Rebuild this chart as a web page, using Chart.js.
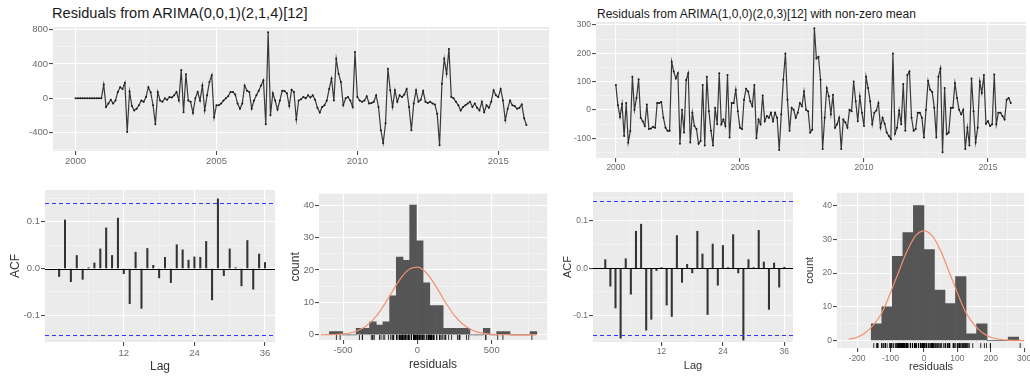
<!DOCTYPE html>
<html>
<head>
<meta charset="utf-8">
<script src="https://cdn.jsdelivr.net/npm/chart.js@4.4.1/dist/chart.umd.min.js"></script>
<style>
  body { margin: 0; background: #fff; width: 1030px; height: 379px; overflow: hidden; position: relative; font-family: "Liberation Sans", Arial, sans-serif; }
  .box { position: absolute; }
  .ttl { position: absolute; color: #1a1a1a; white-space: nowrap; line-height: 1; }
</style>
</head>
<body>
<div class="ttl" style="left:52px;top:6px;font-size:14.6px">Residuals from ARIMA(0,0,1)(2,1,4)[12]</div>
<div class="ttl" style="left:597px;top:8px;font-size:12px">Residuals from ARIMA(1,0,0)(2,0,3)[12] with non-zero mean</div>

<div class="box" style="left:0;top:21px;width:553px;height:150px"><canvas id="leftSeries"></canvas></div>
<div class="box" style="left:562px;top:16px;width:468px;height:162px"><canvas id="rightSeries"></canvas></div>
<div class="box" style="left:0;top:190px;width:275px;height:186px"><canvas id="leftAcf"></canvas></div>
<div class="box" style="left:287px;top:189px;width:265px;height:187px"><canvas id="leftHist"></canvas></div>
<div class="box" style="left:553px;top:192px;width:240px;height:187px"><canvas id="rightAcf"></canvas></div>
<div class="box" style="left:798px;top:188px;width:232px;height:191px"><canvas id="rightHist"></canvas></div>

<script>
// monthly residuals, Jan 2000 onwards
const startYear = 2000;
const leftResid = [
  0, 0, 0, 0, 0, 0, 0, 0, 0, 0, 0, 0,
  160, -100, -60, -15, -60, -25, 75, 130, 110, 180, -390, 80,
  -90, -140, -120, -80, -25, -40, 15, 130, 70, -80, -300, 75,
  -25, -40, 0, -15, 15, 10, 35, 75, -25, 330, -160, 280,
  -25, -40, -170, 0, 75, -25, 150, -140, 35, 190, 270, -220,
  -80, -80, -60, -25, 0, 25, 75, 75, 45, -60, -120, -60,
  150, 90, 75, -120, -25, 35, 90, 150, 210, -300, 770, -195,
  60, -25, -130, -25, 90, 85, 60, -90, 100, 75, -245, -25,
  -10, 15, 0, 35, 10, 35, -15, -110, -165, -100, -80, -25,
  110, 230, -25, 460, 285, 190, -80, 0, 15, -25, -100, 540,
  15, -25, -40, -25, 25, -60, -55, -40, 35, -100, -370, -520,
  -290, 345, 95, -100, 95, -40, 35, 15, 45, 110, -100, -370,
  -60, 95, -40, -15, 85, -40, -55, -40, -60, -70, -180, -545,
  170, 460, 285, 575, 15, 0, -40, -80, -140, -100, -80, -60,
  -40, -100, -60, -110, -140, -40, -160, -80, -110, -40, 95, 35,
  15, 110, -25, -255, -120, -25, -80, -90, -120, -110, -70, -230,
  -310
];
const rightResid = [
  88, 16, -25, 21, -92, 24, -115, -75, 117, 0, 42, 108,
  -28, -40, -57, 19, -68, -66, -60, -63, 24, 24, 28, -28,
  -63, -74, -74, 170, 135, 111, 129, -120, 0, -80, 105, 129,
  -115, -10, -57, -68, -120, -110, 88, -126, 117, -5, -74, -126,
  7, -51, 129, -51, -34, -57, 123, -98, 24, 24, 71, -5,
  -63, -68, 36, 74, 65, 30, 13, 88, -100, -34, -51, 51,
  -40, -22, -28, -10, -40, -10, -28, -142, -16, 106, 199, 36,
  -74, 7, 0, -28, -10, 24, 13, 65, 0, -5, -80, -70,
  288, 181, 187, 106, -138, -28, 77, 48, -16, 53, -63, -51,
  -28, -138, -34, -45, -63, 0, -5, 100, 30, -40, 48, -10,
  -57, 117, 77, 30, -51, -10, -2, 24, -63, -28, -49, -80,
  -92, -103, 199, -84, -63, -2, -51, 91, -74, 123, 135, -28,
  -74, -68, -10, -10, -28, -98, 0, 102, 71, 63, 7, -98,
  117, 146, -150, 77, -86, -80, 7, 7, 94, 42, 0, -16,
  0, -138, -63, -126, 111, -5, -115, -63, 100, 59, 123, -49,
  -40, -57, -51, 125, -51, -10, -10, -22, -34, 36, 42, 24
];

// autocorrelations, lags 1..36
const leftAcf = [
  -0.017, 0.104, -0.028, 0.028, -0.023, 0.002, 0.012, 0.042, 0.087, 0.028, 0.108, -0.011,
  -0.075, 0.035, -0.085, 0.043, 0.007, -0.020, 0.024, -0.030, 0.051, 0.040, 0.018, 0.025,
  0.024, 0.058, -0.067, 0.149, -0.015, 0.042, 0.002, -0.037, 0.060, -0.044, 0.031, 0.013
];
const rightAcf = [
  0.018, -0.038, -0.084, -0.148, 0.020, -0.055, 0.078, 0.093, -0.131, -0.108, -0.005, 0.001,
  -0.078, -0.102, 0.069, -0.030, 0.008, -0.010, 0.078, 0.030, -0.098, 0.051, -0.036, 0.048,
  0.001, 0.071, -0.010, -0.152, 0.018, 0.001, 0.080, 0.013, -0.087, 0.011, -0.040, 0.002
];
const leftCi = 0.141;
const rightCi = 0.1414;

// histogram bins
const leftBinStart = -592;
const leftBinWidth = 45;
const leftCounts = [1, 1, 0, 0, 2, 2, 4, 3, 4, 12, 24, 23, 40, 29, 16, 9, 9, 2, 2, 2, 2, 0, 0, 2, 0, 1, 1, 0, 0, 0, 1];
const rightBinStart = -157.5;
const rightBinWidth = 31.5;
const rightCounts = [5, 10, 25, 32, 40, 27, 15, 11, 19, 2, 5, 0, 0, 1];

// normal curves
const leftNormX = [-650, -600, -550, -500, -450, -400, -350, -300, -250, -200, -150, -100, -50, 0, 50, 100, 150, 200, 250, 300, 350, 400, 450, 500, 550, 600, 650, 700, 750, 800];
const leftNormY = [0.01, 0.04, 0.1, 0.26, 0.63, 1.33, 2.57, 4.55, 7.4, 10.96, 14.8, 18.2, 20.4, 20.9, 19.6, 16.7, 13.0, 9.2, 5.9, 3.5, 1.9, 0.9, 0.42, 0.17, 0.06, 0.02, 0.01, 0, 0, 0];
const rightNormX = [-225, -200, -175, -150, -125, -100, -75, -50, -25, 0, 25, 50, 75, 100, 125, 150, 175, 200, 225, 250, 275, 300];
const rightNormY = [0.4, 1.0, 2.3, 4.7, 8.4, 14.2, 20.5, 26.6, 31.0, 32.5, 31.0, 26.6, 20.5, 14.2, 8.4, 4.7, 2.3, 1.0, 0.4, 0.15, 0.05, 0.01];

// axis breaks
const yearMajor = [2000, 2005, 2010, 2015];
const yearMinor = [2002.5, 2007.5, 2012.5];
const leftResMajor = [-400, 0, 400, 800];
const leftResMinor = [-600, -200, 200, 600];
const rightResMajor = [-100, 0, 100, 200, 300];
const rightResMinor = [-150, -50, 50, 150, 250];
const acfMajor = [-0.1, 0, 0.1];
const acfMinor = [-0.15, -0.05, 0.05, 0.15];
const lagMajor = [12, 24, 36];
const lagMinor = [6, 18, 30];
const countMajor = [0, 10, 20, 30, 40];
const countMinor = [5, 15, 25, 35];
const leftBinMajor = [-500, 0, 500];
const leftBinMinor = [-250, 250, 750];
const rightBinMajor = [-200, -100, 0, 100, 200, 300];
const rightBinMinor = [-250, -150, -50, 50, 150, 250];

Chart.defaults.font.family = '"Liberation Sans", Arial, sans-serif';
Chart.defaults.animation = false;
Chart.defaults.plugins.legend.display = false;
Chart.defaults.plugins.tooltip.enabled = false;

// grey ggplot panel
const panelBg = {
  id: 'panelBg',
  beforeDraw(chart) {
    const { ctx, chartArea: a } = chart;
    ctx.save();
    ctx.fillStyle = '#ebebeb';
    ctx.fillRect(a.left, a.top, a.right - a.left, a.bottom - a.top);
    ctx.restore();
  }
};

// zero line + dashed blue bounds on the acf panels
const acfLines = {
  id: 'acfLines',
  afterDatasetsDraw(chart, args, opts) {
    const { ctx, chartArea: a, scales: { y } } = chart;
    ctx.save();
    ctx.strokeStyle = '#000';
    ctx.lineWidth = 1;
    const y0 = Math.round(y.getPixelForValue(0)) + 0.5;
    ctx.beginPath();
    ctx.moveTo(a.left, y0);
    ctx.lineTo(a.right, y0);
    ctx.stroke();
    ctx.strokeStyle = '#3535ff';
    ctx.lineWidth = 1.2;
    ctx.setLineDash([4, 3]);
    [opts.ci, -opts.ci].forEach(v => {
      const py = Math.round(y.getPixelForValue(v)) + 0.5;
      ctx.beginPath();
      ctx.moveTo(a.left, py);
      ctx.lineTo(a.right, py);
      ctx.stroke();
    });
    ctx.restore();
  }
};

function axis(o) {
  const isMajor = v => o.major.includes(v);
  const all = o.major.concat(o.minor).filter(v => v >= o.min && v <= o.max).sort((a, b) => a - b);
  return {
    type: 'linear', min: o.min, max: o.max, offset: false,
    afterBuildTicks: s => { s.ticks = all.map(v => ({ value: v })); },
    afterFit: s => {
      if (o.horiz) s.height = o.fit; else s.width = o.fit;
      s.paddingLeft = 0; s.paddingRight = 0; s.paddingTop = 0; s.paddingBottom = 0;
    },
    grid: {
      offset: false,
      color: c => (c.tick && isMajor(c.tick.value)) ? '#ffffff' : '#f8f8f8',
      lineWidth: c => (c.tick && isMajor(c.tick.value)) ? 1.1 : 0.55,
      tickColor: c => (c.tick && isMajor(c.tick.value)) ? '#4d4d4d' : 'rgba(0,0,0,0)',
      tickLength: 4
    },
    border: { display: false },
    ticks: {
      autoSkip: false, maxRotation: 0, minRotation: 0, padding: o.pad,
      color: '#6b6b6b', font: { size: o.size },
      callback: v => isMajor(v) ? o.fmt(v) : ''
    },
    title: o.title
      ? { display: true, text: o.title, color: '#333', font: { size: o.titleSize }, padding: o.titlePad }
      : { display: false }
  };
}

const plain = v => String(v);
const oneDec = v => v.toFixed(1);

function seriesChart(id, values, yMin, yMax, yMajor, yMinor, xMax, yFit, xFit, size, padTop) {
  new Chart(document.getElementById(id), {
    type: 'line',
    data: {
      datasets: [{
        data: values.map((v, i) => ({ x: startYear + i / 12, y: v })),
        borderColor: '#383838',
        borderWidth: 1.2,
        pointRadius: 1,
        pointBackgroundColor: '#1a1a1a',
        pointBorderWidth: 0,
        tension: 0
      }]
    },
    options: {
      responsive: true, maintainAspectRatio: false,
      layout: { padding: { top: padTop, left: 0, right: 0, bottom: 0 } },
      scales: {
        x: axis({ min: 1999.2, max: xMax, major: yearMajor, minor: yearMinor, fmt: plain, size: size, fit: xFit, horiz: true, pad: 1 }),
        y: axis({ min: yMin, max: yMax, major: yMajor, minor: yMinor, fmt: plain, size: size, fit: yFit, pad: 1 })
      }
    },
    plugins: [panelBg]
  });
}

function acfChart(id, acf, ci, yMin, yMax, o) {
  new Chart(document.getElementById(id), {
    type: 'bar',
    data: {
      datasets: [{
        data: acf.map((v, i) => ({ x: i + 1, y: v })),
        backgroundColor: '#333333',
        barThickness: 1.4
      }]
    },
    options: {
      responsive: true, maintainAspectRatio: false,
      layout: { padding: 0 },
      scales: {
        x: axis({ min: -1.4, max: 37.7, major: lagMajor, minor: lagMinor, fmt: plain, size: o.size, fit: o.xFit, horiz: true, pad: o.xPad,
                  title: 'Lag', titleSize: o.titleSize, titlePad: { top: 0, bottom: o.xTitlePad } }),
        y: axis({ min: yMin, max: yMax, major: acfMajor, minor: acfMinor, fmt: oneDec, size: o.size, fit: o.yFit, pad: 1,
                  title: 'ACF', titleSize: o.titleSize, titlePad: { top: o.yTitlePad, bottom: 0 } })
      },
      plugins: { acfLines: { ci: ci } }
    },
    plugins: [panelBg, acfLines]
  });
}

function histChart(id, values, binStart, binWidth, counts, normX, normY, o) {
  new Chart(document.getElementById(id), {
    type: 'bar',
    data: {
      datasets: [
        {
          type: 'bar',
          order: 3,
          data: counts.map((c, i) => ({ x: binStart + (i + 0.5) * binWidth, y: c })),
          backgroundColor: '#555555',
          borderWidth: 0,
          barPercentage: 1,
          categoryPercentage: 1
        },
        {
          type: 'line',
          order: 1,
          data: normX.map((x, i) => ({ x: x, y: normY[i] })),
          borderColor: '#f0906f',
          borderWidth: 1.2,
          pointRadius: 0,
          cubicInterpolationMode: 'monotone'
        },
        {
          type: 'scatter',
          order: 2,
          data: values.map(v => ({ x: v, y: o.rugY })),
          pointStyle: 'line',
          rotation: 90,
          radius: 2.5,
          borderColor: '#000',
          borderWidth: 0.8
        }
      ]
    },
    options: {
      responsive: true, maintainAspectRatio: false,
      layout: { padding: 0 },
      scales: {
        x: axis({ min: o.xMin, max: o.xMax, major: o.xMajor, minor: o.xMinor, fmt: plain, size: o.size, fit: o.xFit, horiz: true, pad: o.xPad,
                  title: 'residuals', titleSize: o.titleSize, titlePad: { top: 0, bottom: o.xTitlePad } }),
        y: axis({ min: o.yMin, max: o.yMax, major: countMajor, minor: countMinor, fmt: plain, size: o.size, fit: o.yFit, pad: 1,
                  title: 'count', titleSize: o.titleSize, titlePad: { top: o.yTitlePad, bottom: 0 } })
      }
    },
    plugins: [panelBg]
  });
}

seriesChart('leftSeries', leftResid, -612, 830, leftResMajor, leftResMinor, 2016.8, 53, 20, 9.5, 6);
seriesChart('rightSeries', rightResid, -170, 310, rightResMajor, rightResMinor, 2016.53, 34, 20, 8.5, 6);

acfChart('leftAcf', leftAcf, leftCi, -0.157, 0.168,
  { size: 9.5, titleSize: 12, xFit: 34, xPad: 2, xTitlePad: 2, yFit: 45, yTitlePad: 8 });
acfChart('rightAcf', rightAcf, rightCi, -0.156, 0.161,
  { size: 8.5, titleSize: 11, xFit: 37, xPad: 1, xTitlePad: 6, yFit: 40, yTitlePad: 8 });

histChart('leftHist', leftResid, leftBinStart, leftBinWidth, leftCounts, leftNormX, leftNormY,
  { xMin: -662, xMax: 873, xMajor: leftBinMajor, xMinor: leftBinMinor, yMin: -1.6, yMax: 43.5, rugY: -0.8,
    size: 9.5, titleSize: 12, xFit: 36, xPad: 1, xTitlePad: 4, yFit: 32, yTitlePad: 1 });
histChart('rightHist', rightResid, rightBinStart, rightBinWidth, rightCounts, rightNormX, rightNormY,
  { xMin: -260, xMax: 303, xMajor: rightBinMajor, xMinor: rightBinMinor, yMin: -2.2, yMax: 43.8, rugY: -1.5,
    size: 8.5, titleSize: 11, xFit: 31, xPad: 1.5, xTitlePad: 5, yFit: 39, yTitlePad: 5 });
</script>
</body>
</html>
